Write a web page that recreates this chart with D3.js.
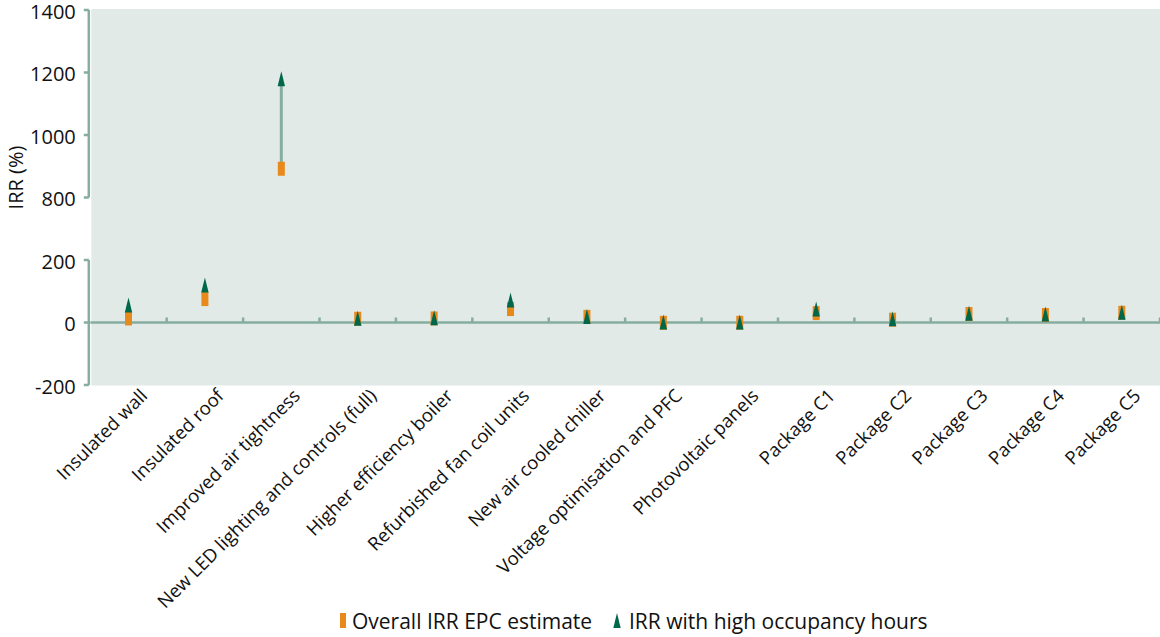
<!DOCTYPE html>
<html><head><meta charset="utf-8">
<script src="https://cdn.jsdelivr.net/npm/d3@7"></script>
<style>
html,body{margin:0;padding:0;background:#fff;}
svg{display:block;font-family:"Open Sans","Noto Sans",sans-serif;}
</style></head>
<body>
<svg id="chart" width="1160" height="637"></svg>
<script>
const categories = ["Insulated wall","Insulated roof","Improved air tightness","New LED lighting and controls (full)","Higher efficiency boiler","Refurbished fan coil units","New air cooled chiller","Voltage optimisation and PFC","Photovoltaic panels","Package C1","Package C2","Package C3","Package C4","Package C5"];
const epcEstimate = [13, 75, 892, 12, 13, 43, 18, -1, -1, 30, 9, 27, 24, 31];
const highOccupancy = [56, 120, 1180, 14, 15, 72, 19, 2, 2, 43, 12, 30, 27, 33];
const yTicks = [-200, 0, 200, 800, 1000, 1200, 1400];
const seriesNames = ["Overall IRR EPC estimate", "IRR with high occupancy hours"];

const colors = {bg:"#e1eae7", axis:"#86ad9f", orange:"#e8891c", green:"#00684a"};
const svg = d3.select("#chart");
const mLeft = 90.3, mRight = 1160, mTop = 10, mBottom = 385;

const x = d3.scaleBand().domain(categories).range([mLeft, mRight]).padding(0);
// broken axis: 200 -> 800 shares one tick interval
const y = d3.scaleLinear().domain([-200, 200, 800, 1400]).range([mBottom, 260, 197.5, mTop]);

svg.append("rect").attr("x", mLeft + 1).attr("y", mTop - 1).attr("width", mRight - mLeft).attr("height", mBottom - mTop + 1.5).attr("fill", colors.bg);

// y axis (two segments due to break)
const yAxisG = svg.append("g").attr("transform", `translate(${mLeft - 1.5},0)`);
[[1400, 800], [200, -200]].forEach(([a, b]) => {
  yAxisG.append("line").attr("x1", 0).attr("x2", 0).attr("y1", y(a)).attr("y2", y(b))
    .attr("stroke", colors.axis).attr("stroke-width", 2.5);
});
yAxisG.selectAll(".yt").data(yTicks).join("line")
  .attr("x1", -5).attr("x2", 0).attr("y1", d => y(d)).attr("y2", d => y(d))
  .attr("stroke", colors.axis).attr("stroke-width", 2.5);
yAxisG.selectAll(".yl").data(yTicks).join("text")
  .attr("x", -13).attr("y", d => y(d)).attr("dy", "0.44em")
  .attr("text-anchor", "end").attr("font-size", 20).attr("fill", "#111").text(d => d);

svg.append("text").attr("transform", `translate(23,177.5) rotate(-90)`)
  .attr("text-anchor", "middle").attr("font-size", 20).attr("fill", "#111").text("IRR (%)");

// zero line with category ticks
svg.append("line").attr("x1", mLeft).attr("x2", mRight).attr("y1", y(0)).attr("y2", y(0))
  .attr("stroke", colors.axis).attr("stroke-width", 2.5);
svg.selectAll(".xt").data(categories).join("line")
  .attr("x1", d => x(d) + x.bandwidth()).attr("x2", d => x(d) + x.bandwidth())
  .attr("y1", y(0)).attr("y2", y(0) - 5)
  .attr("stroke", colors.axis).attr("stroke-width", 2.5);

// x labels
svg.selectAll(".xl").data(categories).join("text")
  .attr("transform", d => `translate(${x(d) + x.bandwidth() / 2 + 20},${mBottom + 12}) rotate(-45)`)
  .attr("text-anchor", "end").attr("font-size", 18.5).attr("fill", "#111").text(d => d);

// high-low lines
svg.selectAll(".hl").data(categories).join("line")
  .attr("x1", d => x(d) + x.bandwidth() / 2).attr("x2", d => x(d) + x.bandwidth() / 2)
  .attr("y1", (d, i) => y(epcEstimate[i])).attr("y2", (d, i) => y(highOccupancy[i]))
  .attr("stroke", colors.axis).attr("stroke-width", 3);

// EPC markers
svg.selectAll(".sq").data(categories).join("rect")
  .attr("x", d => x(d) + x.bandwidth() / 2 - 3.5).attr("y", (d, i) => y(epcEstimate[i]) - 7)
  .attr("width", 7).attr("height", 14).attr("fill", colors.orange);

// triangle markers
const tri = (cx, cy) => `M${cx},${cy - 7.5}L${cx + 3.7},${cy + 7.5}L${cx - 3.7},${cy + 7.5}Z`;
svg.selectAll(".tr").data(categories).join("path")
  .attr("d", (d, i) => tri(x(d) + x.bandwidth() / 2, y(highOccupancy[i])))
  .attr("fill", colors.green);

// legend
const lg = svg.append("g");
lg.append("rect").attr("x", 340).attr("y", 613).attr("width", 6).attr("height", 15).attr("fill", colors.orange);
lg.append("text").attr("x", 352).attr("y", 621).attr("dy", "0.36em").attr("font-size", 21).attr("fill", "#111").text(seriesNames[0]);
lg.append("path").attr("d", tri(617, 620.5)).attr("fill", colors.green);
lg.append("text").attr("x", 629).attr("y", 621).attr("dy", "0.36em").attr("font-size", 21).attr("fill", "#111").text(seriesNames[1]);
</script>
</body></html>
